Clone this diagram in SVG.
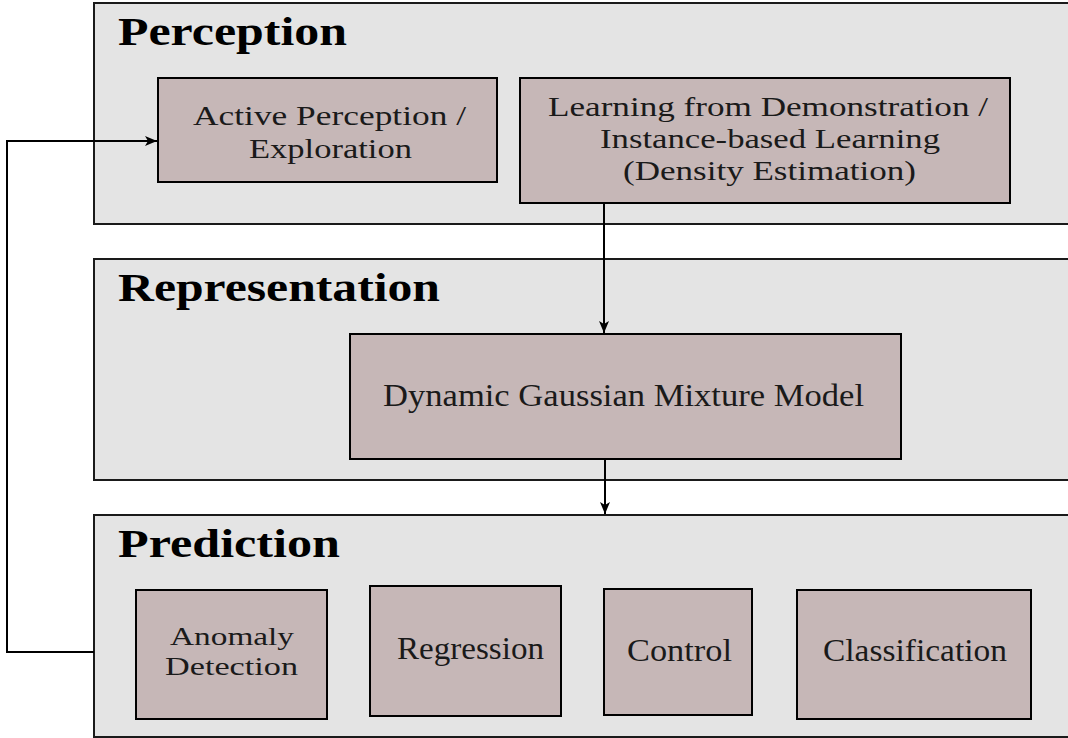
<svg xmlns="http://www.w3.org/2000/svg" width="1068" height="738" viewBox="0 0 1068 738">
<style>
.panel{fill:#e4e4e4;stroke:#1a1a1a;stroke-width:2}
.box{fill:#c6b7b7;stroke:#000;stroke-width:2}
.title{font-family:"Liberation Serif","DejaVu Serif",serif;font-weight:bold;font-size:41px;fill:#000}
.lbl{font-family:"Liberation Serif","DejaVu Serif",serif;font-size:28px;fill:#1a1a1a;text-anchor:middle}
.big{font-size:31px}
.sm{font-size:26px}
.conn{fill:none;stroke:#000;stroke-width:2}
</style>
<defs>
<marker id="arr" viewBox="0 0 12 10" refX="12" refY="5" markerWidth="12" markerHeight="10" markerUnits="userSpaceOnUse" orient="auto">
<path d="M0,0 L12,5 L0,10 L3,5 Z" fill="#000"/>
</marker>
</defs>
<g id="perception">
<rect class="panel" x="94" y="3" width="980" height="221"/>
<text class="title" x="118" y="45" textLength="229" lengthAdjust="spacingAndGlyphs">Perception</text>
</g>
<g id="representation">
<rect class="panel" x="94" y="259" width="980" height="221"/>
<text class="title" x="118" y="301" textLength="322" lengthAdjust="spacingAndGlyphs">Representation</text>
</g>
<g id="prediction">
<rect class="panel" x="94" y="515" width="980" height="222"/>
<text class="title" x="118" y="557" textLength="222" lengthAdjust="spacingAndGlyphs">Prediction</text>
</g>
<g id="active-perception">
<rect class="box" x="158" y="78" width="339" height="104"/>
<text class="lbl" x="329.5" y="125" textLength="273" lengthAdjust="spacingAndGlyphs">Active Perception /</text>
<text class="lbl" x="330.5" y="158" textLength="163" lengthAdjust="spacingAndGlyphs">Exploration</text>
</g>
<g id="learning">
<rect class="box" x="520" y="78" width="490" height="125"/>
<text class="lbl" x="768" y="116" textLength="440" lengthAdjust="spacingAndGlyphs">Learning from Demonstration /</text>
<text class="lbl" x="770" y="148" textLength="340" lengthAdjust="spacingAndGlyphs">Instance-based Learning</text>
<text class="lbl" x="769.5" y="180" textLength="293" lengthAdjust="spacingAndGlyphs">(Density Estimation)</text>
</g>
<g id="dgmm">
<rect class="box" x="350" y="334" width="551" height="125"/>
<text class="lbl big" x="623.5" y="406" textLength="481" lengthAdjust="spacingAndGlyphs">Dynamic Gaussian Mixture Model</text>
</g>
<g id="anomaly">
<rect class="box" x="136" y="590" width="191" height="129"/>
<text class="lbl sm" x="232" y="645" textLength="124" lengthAdjust="spacingAndGlyphs">Anomaly</text>
<text class="lbl sm" x="231.5" y="675" textLength="133" lengthAdjust="spacingAndGlyphs">Detection</text>
</g>
<g id="regression">
<rect class="box" x="370" y="586" width="191" height="130"/>
<text class="lbl big" x="470.5" y="659" textLength="147" lengthAdjust="spacingAndGlyphs">Regression</text>
</g>
<g id="control">
<rect class="box" x="604" y="589" width="148" height="126"/>
<text class="lbl big" x="679.5" y="661" textLength="105" lengthAdjust="spacingAndGlyphs">Control</text>
</g>
<g id="classification">
<rect class="box" x="797" y="590" width="234" height="129"/>
<text class="lbl big" x="915" y="661" textLength="184" lengthAdjust="spacingAndGlyphs">Classification</text>
</g>
<g id="connectors">
<path class="conn" d="M94,652 H7 V141 H157" marker-end="url(#arr)"/>
<path class="conn" d="M604,203 V333" marker-end="url(#arr)"/>
<path class="conn" d="M605,459 V514" marker-end="url(#arr)"/>
</g>
</svg>
